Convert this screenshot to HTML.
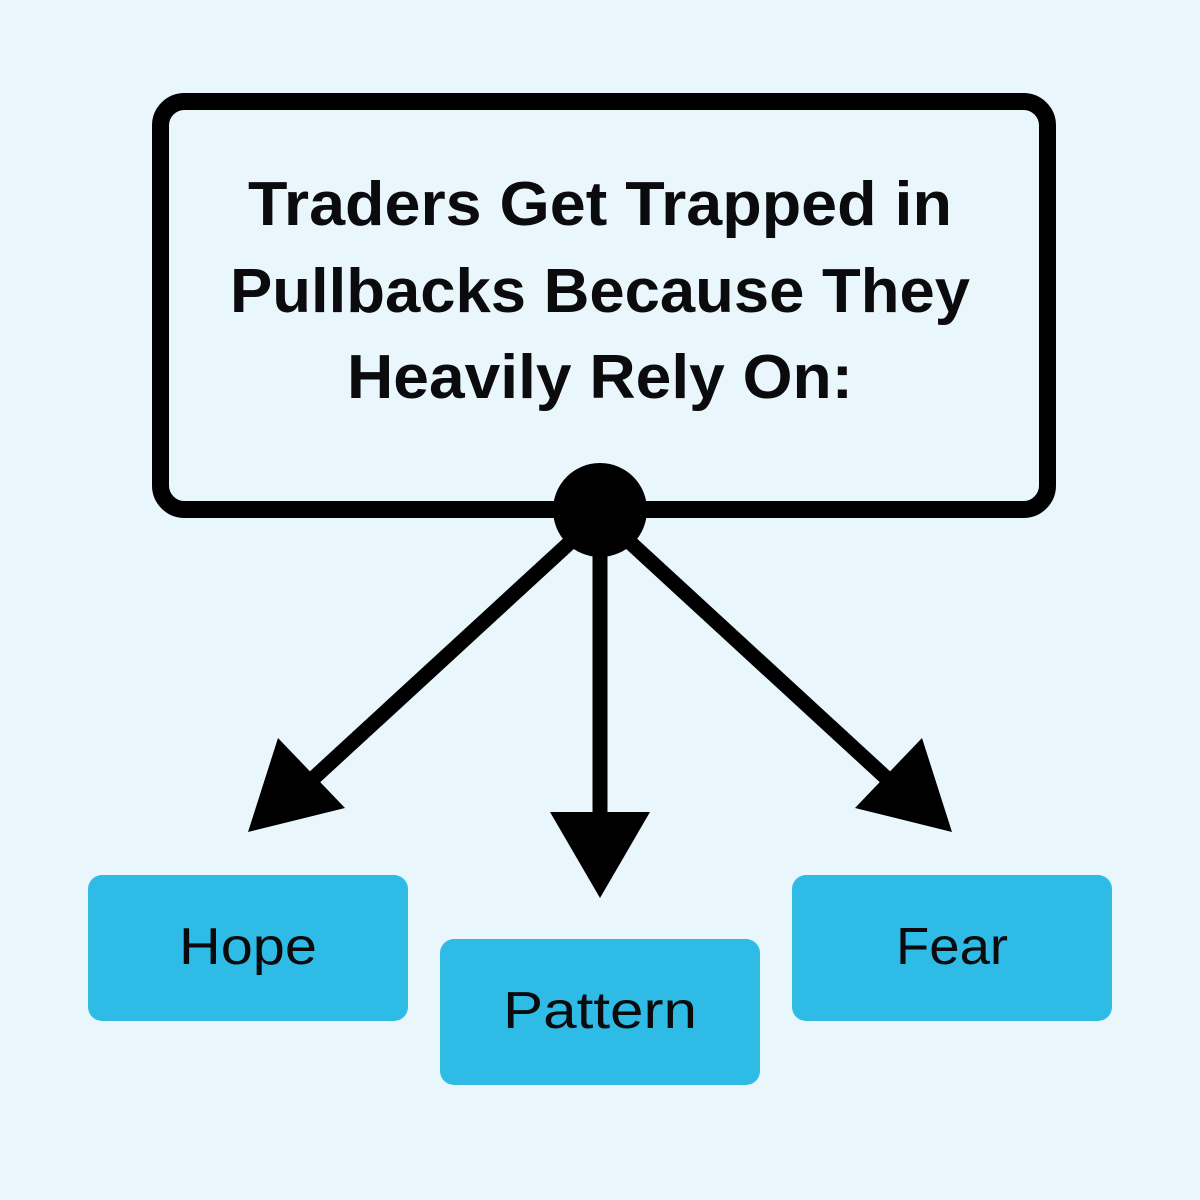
<!DOCTYPE html>
<html><head><meta charset="utf-8"><style>
html,body{margin:0;padding:0;background:#e9f7fd;}
svg{display:block}
</style></head><body>
<svg width="1200" height="1200" viewBox="0 0 1200 1200" xmlns="http://www.w3.org/2000/svg">
<rect width="1200" height="1200" fill="#e9f7fd"/>
<rect x="160.5" y="101.5" width="887" height="408" rx="24" fill="#e9f7fd" stroke="#000" stroke-width="17"/>
<g font-family="Liberation Sans, sans-serif" font-weight="bold" fill="#0b0b0d" font-size="62" text-anchor="middle">
<text x="600" y="225" textLength="704" lengthAdjust="spacingAndGlyphs">Traders Get Trapped in</text>
<text x="600" y="312" textLength="740" lengthAdjust="spacingAndGlyphs">Pullbacks Because They</text>
<text x="600" y="398" textLength="506" lengthAdjust="spacingAndGlyphs">Heavily Rely On:</text>
</g>
<g stroke="#000" stroke-width="15">
<line x1="578" y1="535" x2="305" y2="786"/>
<line x1="600" y1="540" x2="600" y2="815"/>
<line x1="622" y1="535" x2="895" y2="786"/>
</g>
<circle cx="600" cy="510" r="47" fill="#000"/>
<polygon points="248,832 278,738 345,808" fill="#000"/>
<polygon points="550,812 650,812 600,898" fill="#000"/>
<polygon points="952,832 922,738 855,808" fill="#000"/>
<rect x="88" y="875" width="320" height="146" rx="14" fill="#2ebbe6"/>
<rect x="440" y="939" width="320" height="146" rx="14" fill="#2ebbe6"/>
<rect x="792" y="875" width="320" height="146" rx="14" fill="#2ebbe6"/>
<g font-family="Liberation Sans, sans-serif" fill="#0b0b0d" font-size="52" text-anchor="middle">
<text x="248" y="964" textLength="138" lengthAdjust="spacingAndGlyphs">Hope</text>
<text x="600" y="1028" textLength="194" lengthAdjust="spacingAndGlyphs">Pattern</text>
<text x="952" y="964" textLength="112" lengthAdjust="spacingAndGlyphs">Fear</text>
</g>
</svg>
</body></html>
